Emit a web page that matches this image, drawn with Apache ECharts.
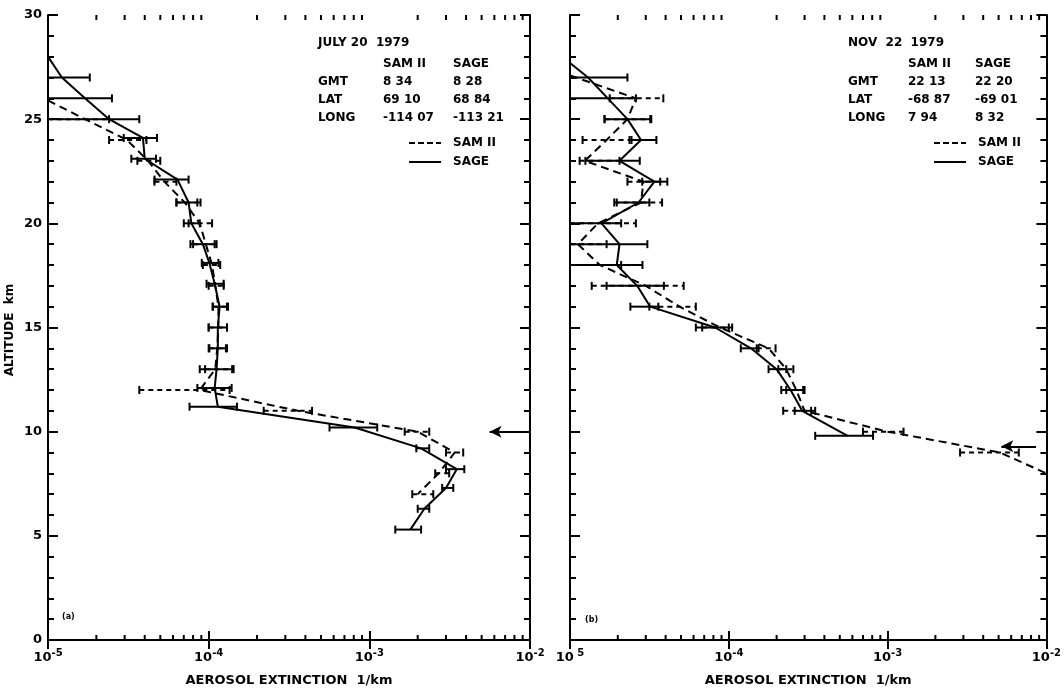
<!DOCTYPE html>
<html><head><meta charset="utf-8">
<script src="https://cdn.jsdelivr.net/npm/echarts@6/dist/echarts.min.js"></script>
<style>html,body{margin:0;padding:0;background:#fff}#c{width:1064px;height:692px}</style>
</head><body><div id="c"></div><script>
// ---------- Panel (a): JULY 20 1979 ----------
const sageA_alt = [28.0, 27.0, 26.0, 25.0, 24.1, 23.1, 22.1, 21.0, 20.0, 19.0, 18.1, 17.1, 16.0, 15.0, 14.0, 13.0, 12.1, 11.2, 10.2, 9.2, 8.2, 7.3, 6.3, 5.3];
const sageA_ext = [1.0e-5, 1.22e-5, 1.7e-5, 2.4e-5, 3.9e-5, 4.0e-5, 6.4e-5, 7.5e-5, 7.8e-5, 9.2e-5, 1.01e-4, 1.09e-4, 1.17e-4, 1.14e-4, 1.14e-4, 1.12e-4, 1.09e-4, 1.14e-4, 8.1e-4, 2.1e-3, 3.5e-3, 3.0e-3, 2.2e-3, 1.8e-3];
const sageA_lo  = [null, 1e-5, 1e-5, 1e-5, 2.96e-5, 3.3e-5, 4.6e-5, 6.3e-5, 7.0e-5, 7.7e-5, 9.06e-5, 9.7e-5, 1.06e-4, 1.0e-4, 1.01e-4, 8.8e-5, 8.5e-5, 7.6e-5, 5.65e-4, 1.96e-3, 3.0e-3, 2.84e-3, 2.0e-3, 1.45e-3];
const sageA_hi  = [null, 1.82e-5, 2.5e-5, 3.7e-5, 4.77e-5, 4.7e-5, 7.5e-5, 8.9e-5, 8.8e-5, 1.09e-4, 1.15e-4, 1.24e-4, 1.32e-4, 1.3e-4, 1.3e-4, 1.43e-4, 1.39e-4, 1.5e-4, 1.12e-3, 2.36e-3, 3.9e-3, 3.33e-3, 2.36e-3, 2.1e-3];

const samA_alt = [25.9, 25.0, 24.0, 23.0, 22.0, 21.0, 20.0, 19.0, 18.0, 17.0, 16.0, 15.0, 14.0, 13.0, 12.0, 11.0, 10.0, 9.0, 8.0, 7.0];
const samA_ext = [1.0e-5, 1.7e-5, 3.1e-5, 4.2e-5, 5.3e-5, 7.1e-5, 8.8e-5, 9.6e-5, 1.05e-4, 1.1e-4, 1.15e-4, 1.15e-4, 1.13e-4, 1.1e-4, 8.8e-5, 3.6e-4, 2.0e-3, 3.4e-3, 2.7e-3, 2.0e-3];
const samA_lo  = [null, 1e-5, 2.4e-5, 3.6e-5, 4.6e-5, 6.3e-5, 7.5e-5, 8.0e-5, 9.2e-5, 1.0e-4, 1.06e-4, 1.0e-4, 1.0e-4, 9.5e-5, 3.7e-5, 2.2e-4, 1.66e-3, 3.0e-3, 2.57e-3, 1.85e-3];
const samA_hi  = [null, 2.4e-5, 4.1e-5, 5.0e-5, 6.3e-5, 8.5e-5, 1.05e-4, 1.12e-4, 1.18e-4, 1.24e-4, 1.3e-4, 1.3e-4, 1.28e-4, 1.4e-4, 1.35e-4, 4.4e-4, 2.36e-3, 3.84e-3, 3.14e-3, 2.5e-3];

// ---------- Panel (b): NOV 22 1979 ----------
const sageB_alt = [27.7, 27.0, 26.0, 25.0, 24.0, 23.0, 22.0, 21.0, 20.0, 19.0, 18.0, 17.0, 16.0, 15.0, 14.0, 13.0, 12.0, 11.0, 9.8];
const sageB_ext = [1.0e-5, 1.3e-5, 1.73e-5, 2.3e-5, 2.8e-5, 2.05e-5, 3.4e-5, 2.7e-5, 1.58e-5, 2.05e-5, 1.97e-5, 2.65e-5, 3.2e-5, 8.2e-5, 1.38e-4, 2.0e-4, 2.45e-4, 2.9e-4, 5.6e-4];
const sageB_lo  = [null, 1e-5, 1e-5, 1.65e-5, 2.37e-5, 1.25e-5, 2.85e-5, 1.97e-5, 1e-5, 1e-5, 1e-5, 1.7e-5, 2.4e-5, 6.2e-5, 1.19e-4, 1.78e-4, 2.14e-4, 2.6e-4, 3.5e-4];
const sageB_hi  = [null, 2.3e-5, 2.6e-5, 3.25e-5, 3.5e-5, 2.75e-5, 4.1e-5, 3.16e-5, 2.1e-5, 3.07e-5, 2.86e-5, 3.9e-5, 3.6e-5, 1.0e-4, 1.54e-4, 2.3e-4, 2.94e-4, 3.5e-4, 8.1e-4];

const samB_alt = [27.1, 26.0, 25.0, 24.0, 23.0, 22.0, 21.0, 20.0, 19.0, 18.0, 17.0, 16.0, 15.0, 14.0, 13.0, 12.0, 11.0, 10.0, 9.0, 8.0];
const samB_ext = [1.0e-5, 2.6e-5, 2.3e-5, 1.7e-5, 1.24e-5, 2.9e-5, 2.8e-5, 1.5e-5, 1.12e-5, 1.54e-5, 3.0e-5, 4.9e-5, 8.8e-5, 1.78e-4, 2.3e-4, 2.66e-4, 3.0e-4, 1.0e-3, 5.1e-3, 1.0e-2];
const samB_lo  = [null, 1.78e-5, 1.65e-5, 1.2e-5, 1.15e-5, 2.3e-5, 1.9e-5, 1e-5, 1e-5, 1e-5, 1.37e-5, 3.16e-5, 6.8e-5, 1.5e-4, 2.05e-4, 2.3e-4, 2.2e-4, 7.0e-4, 2.86e-3, null];
const samB_hi  = [null, 3.87e-5, 3.2e-5, 2.44e-5, 2.05e-5, 3.7e-5, 3.8e-5, 2.6e-5, 1.7e-5, 2.1e-5, 5.2e-5, 6.2e-5, 1.05e-4, 1.97e-4, 2.55e-4, 3.0e-4, 3.3e-4, 1.26e-3, 6.7e-3, null];

// arrows: [altitude, tail x, head x]
const arrowA = [10.0, 1.0e-2, 5.6e-3];
const arrowB = [9.3, 8.6e-3, 5.2e-3];

// axis settings
const X_MIN = 1e-5, X_MAX = 1e-2;
const Y_MIN = 0, Y_MAX = 30, Y_STEP = 5;
const minorXTicks = [];
for (let e = -5; e < -2; e++) for (let m = 2; m <= 9; m++) minorXTicks.push(m * Math.pow(10, e));

// info tables
const infoA = { title: 'JULY 20  1979', rows: [['GMT', '8 34', '8 28'], ['LAT', '69 10', '68 84'], ['LONG', '-114 07', '-113 21']] };
const infoB = { title: 'NOV  22  1979', rows: [['GMT', '22 13', '22 20'], ['LAT', '-68 87', '-69 01'], ['LONG', '7 94', '8 32']] };

const FONT = '"DejaVu Sans", "Liberation Sans", sans-serif';
const chart = echarts.init(document.getElementById('c'), null, { renderer: 'canvas' });

const grids = [
  { left: 48, top: 15, width: 482, height: 627 },
  { left: 570, top: 15, width: 479, height: 627 }
];

function xAx(gi, pos, labels, first) {
  return {
    type: 'log', logBase: 10, gridIndex: gi, position: pos, min: X_MIN, max: X_MAX,
    axisLine: { show: true, lineStyle: { color: '#000', width: 2 } },
    axisTick: { show: true, inside: true, length: 9, lineStyle: { color: '#000', width: 2 } },
    splitLine: { show: false },
    axisLabel: {
      show: labels, margin: 8,
      formatter: function (v) {
        const e = Math.round(Math.log10(v));
        if (first && e === -5) return '{b|10} {s|5}';
        return '{b|10}{s|' + (e < 0 ? '-' : '') + Math.abs(e) + '}';
      },
      rich: {
        b: { fontFamily: FONT, fontWeight: 'bold', fontSize: 13, color: '#000' },
        s: { fontFamily: FONT, fontWeight: 'bold', fontSize: 10, color: '#000', padding: [0, 0, 9, 0] }
      }
    },
    name: labels ? 'AEROSOL EXTINCTION  1/km' : '', nameLocation: 'middle', nameGap: 34,
    nameTextStyle: { fontFamily: FONT, fontWeight: 'bold', fontSize: 13, color: '#000' }
  };
}
function yAx(gi, pos, labels) {
  return {
    type: 'value', gridIndex: gi, position: pos, min: Y_MIN, max: Y_MAX, interval: Y_STEP,
    axisLine: { show: true, lineStyle: { color: '#000', width: 2 } },
    axisTick: { show: true, inside: true, length: 10, lineStyle: { color: '#000', width: 2 } },
    minorTick: { show: true, splitNumber: 5, length: 6, lineStyle: { color: '#000', width: 2 } },
    splitLine: { show: false }, minorSplitLine: { show: false },
    axisLabel: { show: labels, margin: 6, fontFamily: FONT, fontWeight: 'bold', fontSize: 13, color: '#000' }
  };
}

function lineSeries(name, xi, alt, ext, dashed) {
  return {
    name, type: 'line', xAxisIndex: xi, yAxisIndex: xi, showSymbol: false, symbol: 'none',
    data: alt.map((a, i) => [ext[i], a]), animation: false, silent: true, z: 3,
    lineStyle: { color: '#000', width: 2, type: dashed ? [8, 5] : 'solid' }
  };
}
function errSeries(xi, alt, lo, hi, dashed) {
  const data = [];
  alt.forEach((a, i) => { if (lo[i] != null) data.push([a, lo[i], hi[i]]); });
  return {
    type: 'custom', xAxisIndex: xi, yAxisIndex: xi, data, animation: false, silent: true, clip: false, z: 4,
    encode: { x: [1, 2], y: 0 },
    renderItem: function (params, api) {
      const y = api.value(0), l = api.value(1), h = api.value(2);
      const p1 = api.coord([l, y]), p2 = api.coord([h, y]);
      const st = { stroke: '#000', lineWidth: 2, lineDash: dashed ? [5, 4] : null };
      const cap = 4;
      const ch = [{ type: 'line', shape: { x1: p1[0], y1: p1[1], x2: p2[0], y2: p2[1] }, style: st }];
      if (l > X_MIN * 1.01) ch.push({ type: 'line', shape: { x1: p1[0], y1: p1[1] - cap, x2: p1[0], y2: p1[1] + cap }, style: { stroke: '#000', lineWidth: 2 } });
      ch.push({ type: 'line', shape: { x1: p2[0], y1: p2[1] - cap, x2: p2[0], y2: p2[1] + cap }, style: { stroke: '#000', lineWidth: 2 } });
      return { type: 'group', children: ch };
    }
  };
}
function minorTickSeries(xi) {
  return {
    type: 'custom', xAxisIndex: xi, yAxisIndex: xi, data: minorXTicks.map(v => [v]), animation: false, silent: true, clip: false,
    encode: { x: 0 },
    renderItem: function (params, api) {
      const v = api.value(0);
      const b = api.coord([v, Y_MIN]), t = api.coord([v, Y_MAX]);
      const st = { stroke: '#000', lineWidth: 2 };
      return { type: 'group', children: [
        { type: 'line', shape: { x1: b[0], y1: b[1], x2: b[0], y2: b[1] - 5 }, style: st },
        { type: 'line', shape: { x1: t[0], y1: t[1], x2: t[0], y2: t[1] + 5 }, style: st }
      ] };
    }
  };
}
function arrowSeries(xi, arr) {
  return {
    type: 'line', xAxisIndex: xi, yAxisIndex: xi, data: [], silent: true, animation: false,
    markLine: {
      silent: true, animation: false, label: { show: false }, symbolSize: [9, 12],
      lineStyle: { color: '#000', width: 2, type: 'solid' },
      data: [[{ coord: [arr[1], arr[0]], symbol: 'none' }, { coord: [arr[2], arr[0]], symbol: 'arrow' }]]
    }
  };
}

const graphics = [];
function txt(x, y, s, size, align) {
  graphics.push({ type: 'text', x, y, silent: true,
    style: { text: s, font: 'bold ' + (size || 12) + 'px ' + FONT, fill: '#000', textAlign: align || 'left', textVerticalAlign: 'middle' } });
}
function seg(x1, x2, y, dashed) {
  graphics.push({ type: 'line', silent: true, shape: { x1, y1: y, x2, y2: y },
    style: { stroke: '#000', lineWidth: 2, lineDash: dashed ? [6, 3] : null } });
}
function infoBlock(info, x0, xc1, xc2, yTop) {
  txt(x0, yTop, info.title);
  txt(xc1, yTop + 21, 'SAM II'); txt(xc2, yTop + 21, 'SAGE');
  info.rows.forEach((r, i) => { txt(x0, yTop + 39 + i * 18, r[0]); txt(xc1, yTop + 39 + i * 18, r[1]); txt(xc2, yTop + 39 + i * 18, r[2]); });
  seg(xc1 + 26, xc1 + 58, yTop + 100, true); txt(xc1 + 70, yTop + 100, 'SAM II');
  seg(xc1 + 26, xc1 + 58, yTop + 119, false); txt(xc1 + 70, yTop + 119, 'SAGE');
}
infoBlock(infoA, 318, 383, 453, 43);
infoBlock(infoB, 848, 908, 975, 43);
txt(62, 617, '(a)', 8);
txt(585, 620, '(b)', 8);
graphics.push({ type: 'text', x: 10, y: 330, rotation: Math.PI / 2, silent: true,
  style: { text: 'ALTITUDE  km', font: 'bold 12px ' + FONT, fill: '#000', textAlign: 'center', textVerticalAlign: 'middle' } });

chart.setOption({
  animation: false,
  backgroundColor: '#fff',
  grid: grids,
  xAxis: [xAx(0, 'bottom', true, false), xAx(0, 'top', false, false), xAx(1, 'bottom', true, true), xAx(1, 'top', false, false)],
  yAxis: [yAx(0, 'left', true), yAx(0, 'right', false), yAx(1, 'left', false), yAx(1, 'right', false)],
  series: [
    lineSeries('SAGE', 0, sageA_alt, sageA_ext, false),
    lineSeries('SAM II', 0, samA_alt, samA_ext, true),
    errSeries(0, sageA_alt, sageA_lo, sageA_hi, false),
    errSeries(0, samA_alt, samA_lo, samA_hi, true),
    minorTickSeries(0),
    arrowSeries(0, arrowA),
    lineSeries('SAGE', 2, sageB_alt, sageB_ext, false),
    lineSeries('SAM II', 2, samB_alt, samB_ext, true),
    errSeries(2, sageB_alt, sageB_lo, sageB_hi, false),
    errSeries(2, samB_alt, samB_lo, samB_hi, true),
    minorTickSeries(2),
    arrowSeries(2, arrowB)
  ],
  graphic: graphics
});
</script></body></html>
